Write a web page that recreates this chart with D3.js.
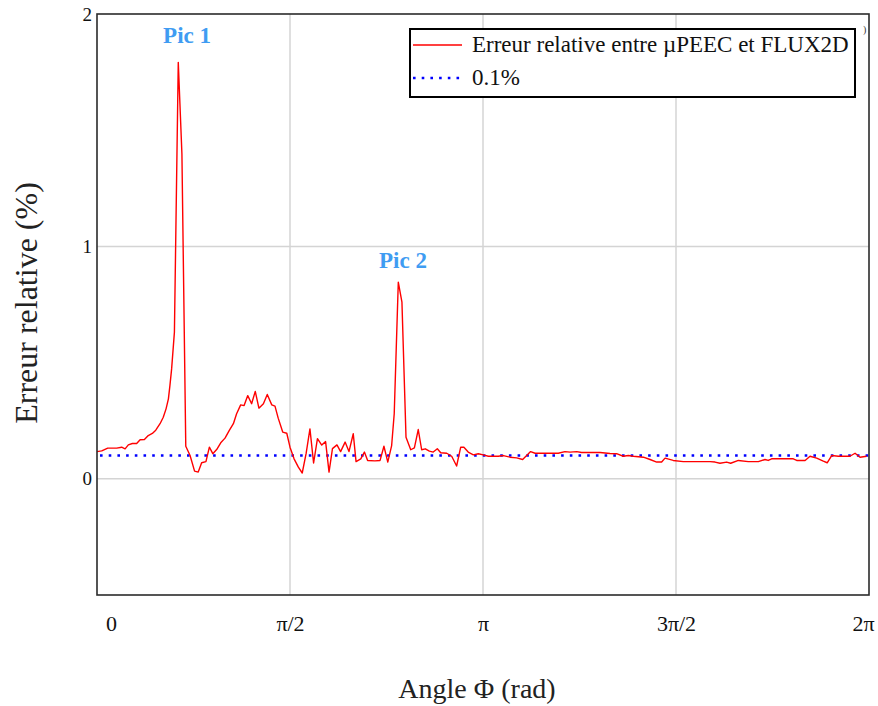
<!DOCTYPE html>
<html>
<head>
<meta charset="utf-8">
<script src="https://cdn.jsdelivr.net/npm/d3@7"></script>
<style>
  html, body { margin: 0; padding: 0; background: #fff; }
  svg { display: block; }
  text { font-family: "Liberation Serif", "Times New Roman", serif; }
</style>
</head>
<body>
<svg id="chart" width="878" height="706"></svg>
<script>
// ---- data (angle in degrees, relative error in %) ----
const angleDeg = [0, 2.2, 5.0, 9.2, 11.5, 13.1, 14.6, 16.5, 18.5, 20.1, 22.1, 23.9, 25.8, 27.4, 29.4, 30.9, 32.2, 33.3, 34.0, 34.8,
  36.1, 37.9, 39.6, 41.4, 43.4, 45.5, 47.2, 48.8, 50.8, 52.4, 54.0, 55.8, 57.7, 59.7, 61.7, 63.6, 65.1, 67.0, 68.6, 70.3,
  72.1, 73.8, 75.5, 77.6, 79.4, 81.5, 83.0, 84.5, 86.6, 88.5, 90.0, 91.9, 93.9, 95.7, 97.5, 99.3, 101.0, 102.8, 104.8, 106.6,
  108.2, 109.8, 111.9, 113.6, 115.7, 117.5, 119.5, 120.8, 123.0, 124.7, 126.2, 129.6, 132.0, 133.8, 135.6, 137.4, 138.6, 140.5, 142.2, 144.1,
  146.3, 148.0, 149.8, 151.4, 153.1, 155.0, 156.8, 158.7, 160.3, 163.1, 165.4, 167.7, 169.6, 171.1, 173.1, 175.5, 177.8, 180.1, 182.5, 187.1,
  189.5, 192.6, 195.7, 198.5, 202.2, 204.3, 215.1, 218.2, 220.6, 223.7, 226.0, 234.6, 239.2, 242.3, 245.4, 247.8, 250.1, 254.8, 257.9, 261.0,
  263.3, 264.9, 268.7, 273.4, 285.9, 288.2, 290.5, 293.6, 295.5, 299.1, 303.7, 308.4, 311.5, 313.0, 314.6, 324.7, 326.3, 330.2, 332.5, 335.6,
  338.7, 340.5, 342.6, 345.7, 351.1, 353.5, 355.8, 358.9];
const errorPct = [0.117, 0.120, 0.132, 0.132, 0.136, 0.129, 0.146, 0.152, 0.152, 0.168, 0.169, 0.186, 0.195, 0.209, 0.237, 0.265, 0.301, 0.344, 0.401, 0.473,
  0.631, 1.792, 1.398, 0.140, 0.100, 0.033, 0.029, 0.069, 0.074, 0.136, 0.108, 0.126, 0.155, 0.175, 0.208, 0.237, 0.280, 0.318, 0.315, 0.358,
  0.323, 0.376, 0.304, 0.323, 0.363, 0.318, 0.313, 0.261, 0.201, 0.196, 0.136, 0.086, 0.050, 0.025, 0.108, 0.215, 0.068, 0.173, 0.145, 0.160,
  0.029, 0.130, 0.146, 0.117, 0.158, 0.117, 0.194, 0.074, 0.086, 0.115, 0.079, 0.077, 0.079, 0.140, 0.072, 0.143, 0.280, 0.846, 0.760, 0.179,
  0.125, 0.133, 0.212, 0.125, 0.129, 0.119, 0.115, 0.129, 0.112, 0.110, 0.097, 0.055, 0.136, 0.136, 0.115, 0.103, 0.108, 0.103, 0.097, 0.097,
  0.100, 0.093, 0.090, 0.083, 0.117, 0.110, 0.110, 0.117, 0.115, 0.117, 0.113, 0.113, 0.109, 0.108, 0.097, 0.100, 0.097, 0.093, 0.083, 0.072,
  0.072, 0.089, 0.079, 0.074, 0.074, 0.072, 0.067, 0.072, 0.067, 0.079, 0.074, 0.074, 0.083, 0.079, 0.086, 0.086, 0.079, 0.079, 0.097, 0.089,
  0.076, 0.069, 0.100, 0.097, 0.097, 0.110, 0.093, 0.097];
const thresholdPct = 0.1;
const xTickValues = [0, Math.PI / 2, Math.PI, 3 * Math.PI / 2, 2 * Math.PI];
const xTickLabels = ["0", "π/2", "π", "3π/2", "2π"];
const yTickValues = [0, 1, 2];
const yTickLabels = ["0", "1", "2"];
const seriesNames = ["Erreur relative entre µPEEC et FLUX2D", "0.1%"];
const peakLabels = ["Pic 1", "Pic 2"];
const peakAngleDeg = [42.0, 142.7];
const peakLabelPct = [1.875, 0.905];

// ---- layout ----
const W = 878, H = 706;
const m = { left: 97, top: 14, right: 9, bottom: 111 };
const SERIF = "'Liberation Serif', 'Times New Roman', serif";
const svg = d3.select("#chart");
const x = d3.scaleLinear().domain([0, 2 * Math.PI]).range([m.left, W - m.right]);
const y = d3.scaleLinear().domain([-0.5, 2]).range([H - m.bottom, m.top]);
const toRad = d => d * Math.PI / 180;
const data = angleDeg.map((a, i) => ({ a: toRad(a), v: errorPct[i] }));

// gridlines
svg.append("g").selectAll("line").data([Math.PI / 2, Math.PI, 3 * Math.PI / 2]).join("line")
  .attr("x1", d => x(d)).attr("x2", d => x(d)).attr("y1", y(2)).attr("y2", y(-0.5))
  .attr("stroke", "#d4d4d4").attr("stroke-width", 1.5);
svg.append("g").selectAll("line").data([0, 1]).join("line")
  .attr("x1", x(0)).attr("x2", x(2 * Math.PI)).attr("y1", d => y(d)).attr("y2", d => y(d))
  .attr("stroke", "#d4d4d4").attr("stroke-width", 1.5);

// threshold dotted line
svg.append("line")
  .attr("x1", x(0) + 3).attr("x2", x(2 * Math.PI)).attr("y1", y(thresholdPct)).attr("y2", y(thresholdPct))
  .attr("stroke", "#0000ff").attr("stroke-width", 2.6).attr("stroke-dasharray", "2.6 6.1");

// red series
svg.append("path").datum(data)
  .attr("fill", "none").attr("stroke", "#ff0000").attr("stroke-width", 1.4).attr("stroke-linejoin", "round")
  .attr("d", d3.line().x(d => x(d.a)).y(d => y(d.v)));

// frame
svg.append("rect")
  .attr("x", x(0)).attr("y", y(2)).attr("width", x(2 * Math.PI) - x(0)).attr("height", y(-0.5) - y(2))
  .attr("fill", "none").attr("stroke", "#2b2b2b").attr("stroke-width", 1.6);

// x axis
const xAxis = svg.append("g").attr("transform", `translate(0,${y(-0.5)})`)
  .call(d3.axisBottom(x).tickValues(xTickValues).tickFormat((d, i) => xTickLabels[i]).tickSize(0).tickPadding(20));
xAxis.attr("font-family", SERIF);
xAxis.select(".domain").remove();
xAxis.selectAll("text").attr("font-size", 22).attr("fill", "#111")
  .attr("font-family", SERIF)
  .attr("dx", (d, i) => i === 0 ? 14 : (i === xTickValues.length - 1 ? -6 : 0));

// y axis
const yAxis = svg.append("g").attr("transform", `translate(${x(0)},0)`)
  .call(d3.axisLeft(y).tickValues(yTickValues).tickFormat((d, i) => yTickLabels[i]).tickSize(0).tickPadding(5));
yAxis.attr("font-family", SERIF);
yAxis.select(".domain").remove();
yAxis.selectAll("text").attr("font-size", 19).attr("fill", "#111").attr("font-family", SERIF);

// axis titles
svg.append("text").attr("x", 477).attr("y", 698).attr("text-anchor", "middle")
  .attr("font-family", SERIF).attr("font-size", 28).attr("fill", "#222").text("Angle Φ (rad)");
svg.append("text").attr("transform", "translate(37,303) rotate(-90)").attr("text-anchor", "middle")
  .attr("font-family", SERIF).attr("font-size", 32).attr("fill", "#222").text("Erreur relative (%)");

// peak labels
svg.append("g").selectAll("text").data(peakLabels).join("text")
  .attr("x", (d, i) => x(toRad(peakAngleDeg[i])))
  .attr("y", (d, i) => y(peakLabelPct[i]))
  .attr("text-anchor", "middle").attr("font-family", SERIF).attr("font-size", 23).attr("font-weight", "bold")
  .attr("fill", "#3f9cf2").text(d => d);

// legend
const lg = svg.append("g");
lg.append("rect").attr("x", 410).attr("y", 29).attr("width", 445).attr("height", 68)
  .attr("fill", "#fff").attr("stroke", "#000").attr("stroke-width", 2);
lg.append("line").attr("x1", 413).attr("x2", 462).attr("y1", 45).attr("y2", 45)
  .attr("stroke", "#ff0000").attr("stroke-width", 1.6);
lg.append("line").attr("x1", 413).attr("x2", 460).attr("y1", 78).attr("y2", 78)
  .attr("stroke", "#0000ff").attr("stroke-width", 2.6).attr("stroke-dasharray", "2.6 6.1");
lg.selectAll("text.lt").data(seriesNames).join("text").attr("class", "lt")
  .attr("x", 472).attr("y", (d, i) => 52 + i * 33)
  .attr("font-family", SERIF).attr("font-size", 23).attr("fill", "#111").text(d => d);

// small mark at top-right
svg.append("text").attr("x", 863).attr("y", 33).attr("font-family", SERIF)
  .attr("font-size", 10).attr("fill", "#333").text(")");
</script>
</body>
</html>
